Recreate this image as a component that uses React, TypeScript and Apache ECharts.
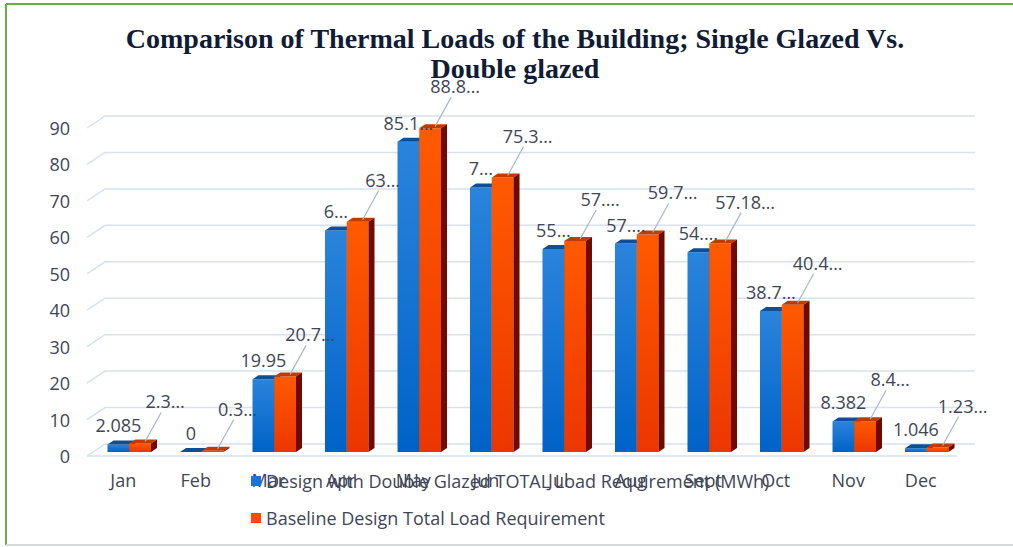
import React, { useEffect, useRef } from 'react';
import * as echarts from 'echarts';

const months = ['Jan', 'Feb', 'Mar', 'Apr', 'May', 'Jun', 'Jul', 'Aug', 'Sept', 'Oct', 'Nov', 'Dec'];
const designDoubleGlazed = [2.085, 0, 19.95, 60.8, 85.1, 72.6, 55.7, 57.2, 54.8, 38.7, 8.382, 1.046];
const baselineDesign = [2.35, 0.35, 20.75, 63.2, 88.8, 75.3, 57.9, 59.7, 57.18, 40.4, 8.45, 1.23];
const designLabels = ['2.085', '0', '19.95', '6…', '85.1…', '7…', '55…', '57.…', '54.…', '38.7…', '8.382', '1.046'];
const baselineLabels = ['2.3…', '0.3…', '20.7…', '63…', '88.8…', '75.3…', '57.…', '59.7…', '57.18…', '40.4…', '8.4…', '1.23…'];
const yTicks = [0, 10, 20, 30, 40, 50, 60, 70, 80, 90];
const seriesNames = [
  'Design with Double Glazed TOTAL Load Requirement (MWh)',
  'Baseline Design Total Load Requirement',
];
const titleLines = ['Comparison of Thermal Loads of the Building; Single Glazed Vs.', 'Double glazed'];

const TEXT_COLOR = '#3e4657';
const FONT = '"Open Sans", "Noto Sans", sans-serif';
const TITLE_FONT = '"Liberation Serif", "Times New Roman", serif';
const LABEL_SIZE = 18;
const WALL_DX = 18;
const WALL_DY = 12;
const BAR_SHIFT_X = 6;
const BAR_SHIFT_Y = 4;
const BAR_DX = 6;
const BAR_DY = 4;

const blueFront = new echarts.graphic.LinearGradient(0, 0, 0, 1, [
  { offset: 0, color: '#2a84dc' },
  { offset: 1, color: '#0062c8' },
]);
const orangeFront = new echarts.graphic.LinearGradient(0, 0, 0, 1, [
  { offset: 0, color: '#ff5a00' },
  { offset: 1, color: '#ec3600' },
]);

function makeBarRender(labels: string[], side: number) {
  return (params: any, api: any) => {
    const i = api.value(0);
    const v = api.value(1);
    const base = api.coord([i, 0]);
    const top = api.coord([i, v]);
    const band = api.size([1, 0])[0];
    const w = band * 0.3;
    const x0 = base[0] + BAR_SHIFT_X - (side === 0 ? w : 0);
    const yb = base[1] - BAR_SHIFT_Y;
    const yt = top[1] - BAR_SHIFT_Y;
    const cx = x0 + w / 2;
    const children: any[] = [
      {
        type: 'rect',
        shape: { x: x0, y: yt, width: w, height: Math.max(0, yb - yt) },
        style: { fill: side === 0 ? blueFront : orangeFront },
      },
      {
        type: 'polygon',
        shape: { points: [[x0, yt], [x0 + BAR_DX, yt - BAR_DY], [x0 + w + BAR_DX, yt - BAR_DY], [x0 + w, yt]] },
        style: { fill: side === 0 ? '#0b4f96' : '#c23a00' },
      },
      {
        type: 'polygon',
        shape: { points: [[x0 + w, yt], [x0 + w + BAR_DX, yt - BAR_DY], [x0 + w + BAR_DX, yb - BAR_DY], [x0 + w, yb]] },
        style: { fill: side === 0 ? '#073a70' : '#6e0a00' },
      },
    ];
    if (side === 0) {
      children.push({
        type: 'text',
        z2: 100,
        style: {
          text: labels[i], x: cx, y: yt - 19, align: 'center', verticalAlign: 'middle',
          fontSize: LABEL_SIZE, fontFamily: FONT, fill: TEXT_COLOR,
        },
      });
    } else {
      const lx = cx + 25;
      const ly = yt - 42;
      children.push({
        type: 'line',
        z2: 90,
        shape: { x1: lx - 4, y1: ly + 11, x2: cx + 5, y2: yt - 2 },
        style: { stroke: '#a9b7c9', lineWidth: 1.2 },
      });
      children.push({
        type: 'text',
        z2: 100,
        style: {
          text: labels[i], x: lx, y: ly, align: 'center', verticalAlign: 'middle',
          fontSize: LABEL_SIZE, fontFamily: FONT, fill: TEXT_COLOR,
        },
      });
    }
    return { type: 'group', children };
  };
}

function gridRender(params: any, api: any) {
  const t = api.value(1);
  const y = api.coord([0, t])[1];
  const cs = params.coordSys;
  const left = cs.x;
  const right = cs.x + cs.width;
  const children: any[] = [
    {
      type: 'polyline',
      shape: { points: [[left, y], [left + WALL_DX, y - WALL_DY], [right + WALL_DX, y - WALL_DY]] },
      style: { stroke: '#d9e1ee', lineWidth: 1.5, fill: 'none' },
    },
  ];
  if (t === 0) {
    children.push({
      type: 'line',
      shape: { x1: left, y1: y, x2: right, y2: y },
      style: { stroke: '#d9e1ee', lineWidth: 1.5 },
    });
  }
  return { type: 'group', children };
}

export default function App() {
  const ref = useRef<HTMLDivElement>(null);
  useEffect(() => {
    document.body.style.margin = '0';
    const chart = echarts.init(ref.current!, undefined, { renderer: 'svg' });
    chart.setOption({
      animation: false,
      backgroundColor: '#ffffff',
      grid: { left: 87, right: 56, top: 128, bottom: 91, containLabel: false },
      xAxis: {
        type: 'category',
        data: months,
        axisLine: { show: false },
        axisTick: { show: false },
        axisLabel: { margin: 15, fontSize: LABEL_SIZE, fontFamily: FONT, color: TEXT_COLOR },
      },
      yAxis: {
        type: 'value',
        min: 0,
        max: 90,
        interval: 10,
        axisLine: { show: false },
        axisTick: { show: false },
        splitLine: { show: false },
        axisLabel: { margin: 17, fontSize: LABEL_SIZE, fontFamily: FONT, color: TEXT_COLOR },
      },
      legend: {
        orient: 'vertical',
        left: 246,
        top: 466,
        itemWidth: 10,
        itemHeight: 10,
        itemGap: 17,
        icon: 'rect',
        data: seriesNames,
        textStyle: { fontSize: 18, fontFamily: FONT, color: TEXT_COLOR, lineHeight: 20 },
      },
      graphic: [
        {
          type: 'text',
          x: 515,
          y: 38,
          style: {
            text: titleLines[0], align: 'center', verticalAlign: 'middle',
            fontSize: 28, fontWeight: 'bold', fontFamily: TITLE_FONT, fill: '#101b36',
          },
        },
        {
          type: 'text',
          x: 515,
          y: 68,
          style: {
            text: titleLines[1], align: 'center', verticalAlign: 'middle',
            fontSize: 28, fontWeight: 'bold', fontFamily: TITLE_FONT, fill: '#101b36',
          },
        },
        {
          type: 'line', shape: { x1: 6, y1: 4, x2: 1013, y2: 4 },
          style: { stroke: '#6aae45', lineWidth: 2 },
        },
        {
          type: 'line', shape: { x1: 6, y1: 4, x2: 6, y2: 545 },
          style: { stroke: '#6aae45', lineWidth: 2 },
        },
        {
          type: 'line', shape: { x1: 6, y1: 545, x2: 1013, y2: 545 },
          style: { stroke: '#d3dcd8', lineWidth: 2 },
        },
      ],
      series: [
        {
          type: 'custom',
          name: 'grid3d',
          silent: true,
          z: 1,
          renderItem: gridRender,
          data: yTicks.map((t) => [0, t]),
          encode: { x: 0, y: 1 },
        },
        {
          type: 'custom',
          name: seriesNames[0],
          z: 2,
          itemStyle: { color: '#1874d6' },
          renderItem: makeBarRender(designLabels, 0),
          data: designDoubleGlazed.map((v, i) => [i, v]),
          encode: { x: 0, y: 1 },
        },
        {
          type: 'custom',
          name: seriesNames[1],
          z: 2,
          itemStyle: { color: '#ff4a00' },
          renderItem: makeBarRender(baselineLabels, 1),
          data: baselineDesign.map((v, i) => [i, v]),
          encode: { x: 0, y: 1 },
        },
      ],
    });
    return () => chart.dispose();
  }, []);
  return <div ref={ref} style={{ width: 1013, height: 547 }} />;
}
